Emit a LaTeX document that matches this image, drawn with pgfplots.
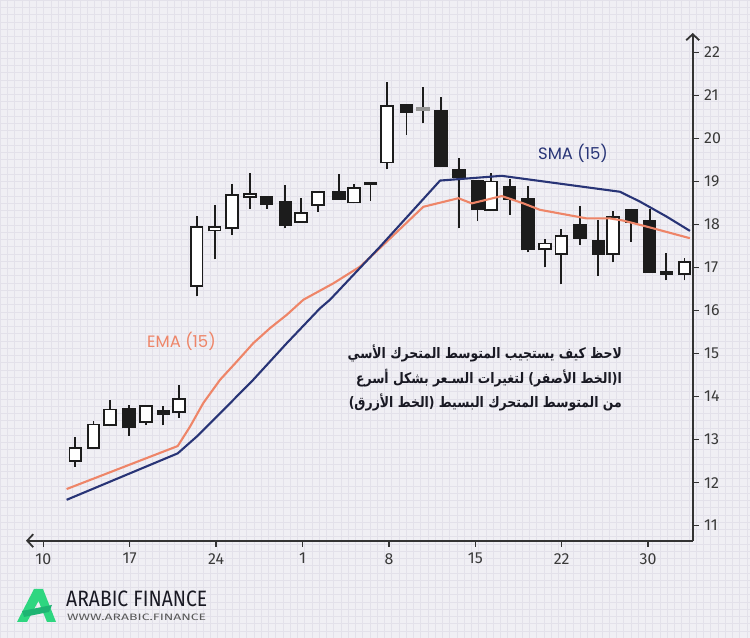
\documentclass[border=0pt]{standalone}
\usepackage{fontspec}
\usepackage{pgfplots}
\pgfplotsset{compat=1.18}
\usepackage{pgfplotstable}
\usetikzlibrary{arrows.meta}
\setmainfont{Fira Sans}
\newfontfamily\poppins{Poppins}
\newfontfamily\arabicfont[Script=Arabic]{DejaVu Sans}
\TeXXeTstate=1
\definecolor{bg}{RGB}{240,239,244}
\definecolor{gridc}{RGB}{227,225,234}
\definecolor{smac}{RGB}{40,52,118}
\definecolor{emac}{RGB}{238,133,104}
\definecolor{axc}{RGB}{51,51,51}
\definecolor{lbl}{RGB}{58,58,58}
\definecolor{txt}{RGB}{25,25,35}
\definecolor{candle}{RGB}{28,28,28}
\definecolor{dojigray}{RGB}{150,150,150}
\definecolor{greenA}{RGB}{46,214,128}
\definecolor{greenB}{RGB}{30,180,115}

\pgfplotstableread{
x o h l c
1.85 12.49 13.07 12.37 12.82
2.91 12.78 13.44 12.78 13.37
3.87 13.31 13.93 13.31 13.72
5.95 13.39 13.81 13.34 13.81
7.84 13.62 14.28 13.51 13.97
8.88 16.55 18.19 16.33 17.96
9.92 17.84 18.45 17.19 17.96
10.91 17.89 18.95 17.75 18.70
11.95 18.61 19.20 18.37 18.72
14.90 18.04 18.61 18.04 18.29
15.91 18.43 18.78 18.29 18.78
17.98 18.49 18.93 18.49 18.86
18.94 18.91 18.98 18.55 18.98
19.90 19.42 21.32 19.28 20.78
25.90 18.31 19.20 18.31 19.02
29.03 17.40 17.67 17.01 17.58
29.98 17.29 17.89 16.61 17.75
32.97 17.30 18.32 17.12 18.20
37.10 16.82 17.23 16.70 17.15
}\bull

\pgfplotstableread{
x o h l c
21.98 20.64 21.20 20.35 20.72
}\doji

\pgfplotstableread{
x o h l c
4.97 13.73 13.81 13.09 13.26
6.95 13.68 13.79 13.33 13.58
12.93 18.66 18.66 18.37 18.45
14.01 18.54 18.91 17.91 17.97
17.11 18.78 19.17 18.57 18.57
21.02 20.79 20.79 20.08 20.60
23.00 20.66 20.96 19.33 19.33
24.06 19.28 19.54 17.91 19.07
25.13 19.03 19.03 18.08 18.33
26.99 18.90 19.05 18.22 18.57
28.05 18.61 18.90 17.35 17.40
31.06 18.01 18.43 17.53 17.66
32.12 17.65 18.10 16.80 17.30
34.03 18.37 18.37 17.60 18.04
35.09 18.10 18.35 16.87 16.87
36.05 16.92 17.33 16.70 16.82
}\bear

\pgfplotstableread{
x y
1.35 11.60
7.78 12.68
8.88 13.07
10.23 13.61
12.15 14.39
14.09 15.24
16.01 16.05
16.59 16.25
19.48 17.48
22.96 19.02
26.53 19.13
33.37 18.76
34.53 18.53
36.08 18.18
37.42 17.85
}\sma

\pgfplotstableread{
x y
1.35 11.85
7.78 12.85
8.49 13.30
9.26 13.85
10.23 14.39
11.19 14.81
12.15 15.24
13.12 15.59
14.09 15.90
15.05 16.25
16.78 16.63
18.33 17.02
19.48 17.45
21.99 18.41
24.02 18.61
24.79 18.49
26.53 18.66
27.78 18.49
28.74 18.34
31.45 18.14
32.80 18.14
33.56 18.09
34.92 17.95
37.42 17.68
}\ema

\pgfplotsset{
  candlebar/.style 2 args={draw=none, mark=none, forget plot,
    error bars/.cd, y dir=plus, y explicit, error mark=none,
    error bar style={draw=#1, line width=#2, line cap=butt}},
}

\begin{document}
\begin{tikzpicture}[x=1bp,y=1bp]
\fill[bg] (0,0) rectangle (750,638);
\draw[gridc, line width=0.35bp, step=7.25] (0,0) grid (750,638);
\begin{axis}[
  scale only axis, width=666.7bp, height=507.7bp,
  at={(26bp,97.3bp)}, anchor=south west,
  xmin=-1, xmax=37.58, ymin=10.65, ymax=22.45,
  axis x line=bottom, axis y line=right,
  x axis line style={{Straight Barb[length=6bp,width=13bp]}-, line width=1.8bp, axc},
  y axis line style={-{Straight Barb[length=6bp,width=13bp]}, line width=1.8bp, axc},
  xtick={0,5,10,15,20,25,30,35},
  xticklabels={10,17,24,1,8,15,22,30},
  ytick={11,12,...,22},
  tick align=outside, major tick length=6bp,
  every tick/.style={axc, line width=1.5bp},
  tick label style={font=\fontsize{16}{18}\selectfont, text=lbl},
  xticklabel style={yshift=-3bp},
  yticklabel style={xshift=2bp},
  /pgf/number format/assume math mode=true,
  clip=false,
]
% wicks
\addplot[candlebar={candle}{1.8bp}]
  table[x=x, y=l, y error plus expr=\thisrow{h}-\thisrow{l}] {\bull};
\addplot[candlebar={candle}{1.8bp}]
  table[x=x, y=l, y error plus expr=\thisrow{h}-\thisrow{l}] {\bear};
\addplot[candlebar={candle}{1.8bp}]
  table[x=x, y=l, y error plus expr=\thisrow{h}-\thisrow{l}] {\doji};
% bodies
\addplot[candlebar={candle}{13.5bp}]
  table[x=x, y=o, y error plus expr=\thisrow{c}-\thisrow{o}] {\bull};
\addplot[candlebar={white}{9.8bp}]
  table[x=x, y expr=\thisrow{o}+0.042, y error plus expr={max(\thisrow{c}-\thisrow{o}-0.084,0)}] {\bull};
\addplot[candlebar={candle}{13.5bp}]
  table[x=x, y=c, y error plus expr=\thisrow{o}-\thisrow{c}] {\bear};
\addplot[candlebar={dojigray}{13.5bp}]
  table[x=x, y=o, y error plus expr=\thisrow{c}-\thisrow{o}] {\doji};
% moving averages
\addplot[emac, line width=2.1bp, line join=round, mark=none] table[x=x, y=y] {\ema};
\addplot[smac, line width=2.1bp, line join=round, mark=none] table[x=x, y=y] {\sma};
\end{axis}
\node[text=smac, font=\poppins\fontsize{16.5}{19}\selectfont] at (573,485) {SMA (15)};
\node[text=emac, font=\poppins\fontsize{16.5}{19}\selectfont] at (181.5,297) {EMA (15)};
\node[anchor=east, text=txt, inner sep=0, font=\arabicfont\bfseries\fontsize{14.5}{17}\selectfont] at (622,285) {\scalebox{0.86}[1]{\beginR لاحظ كيف يستجيب المتوسط المتحرك الأسي\endR}};
\node[anchor=east, text=txt, inner sep=0, font=\arabicfont\bfseries\fontsize{14.5}{17}\selectfont] at (622,260) {\scalebox{0.86}[1]{\beginR ا(الخط الأصفر) لتغيرات السـعر بشكل أسرع\endR}};
\node[anchor=east, text=txt, inner sep=0, font=\arabicfont\bfseries\fontsize{14.5}{17}\selectfont] at (622,236) {\scalebox{0.86}[1]{\beginR من المتوسط المتحرك البسيط (الخط الأزرق)\endR}};
% logo
\fill[greenA] (17,16) -- (34,49) -- (43,49) -- (56,16) -- (47,16) -- (38.5,37) -- (27,16) -- cycle;
\fill[greenB] (22,27) -- (52,33) -- (49,26) -- (24,21) -- cycle;
\node[anchor=south west, inner sep=0, text=txt] at (66,30.7) {\resizebox{141bp}{15.6bp}{ARABIC FINANCE}};
\node[anchor=south west, inner sep=0, text=black!65] at (67,17) {\resizebox{139bp}{6.5bp}{WWW.ARABIC.FINANCE}};
\pgfresetboundingbox
\useasboundingbox (0,0) rectangle (750,638);
\end{tikzpicture}
\end{document}
